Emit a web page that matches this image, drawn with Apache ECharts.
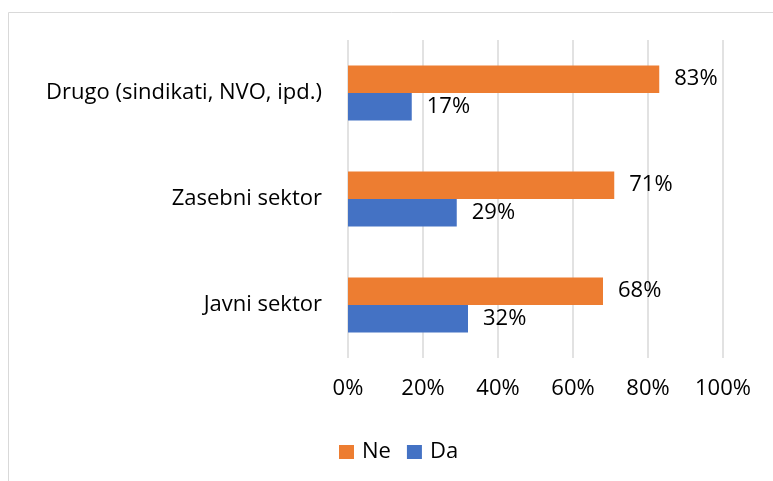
<!DOCTYPE html>
<html>
<head>
<meta charset="utf-8">
<script src="https://cdn.jsdelivr.net/npm/echarts@6/dist/echarts.min.js"></script>
<style>
  html, body { margin: 0; padding: 0; background: #fff; }
  #chart { width: 773px; height: 481px; }
</style>
</head>
<body>
<div id="chart"></div>
<script>
const categories = ['Javni sektor', 'Zasebni sektor', 'Drugo (sindikati, NVO, ipd.)']
const neValues = [68, 71, 83]
const daValues = [32, 29, 17]

const chart = echarts.init(document.getElementById('chart'))
const font = '"Open Sans", sans-serif'
const fs = 22

chart.setOption({
  animation: false,
  textStyle: { fontFamily: font },
  graphic: [{
    type: 'rect',
    left: 6,
    top: 10,
    shape: { width: 820, height: 520 },
    style: { fill: 'none', stroke: '#d9d9d9', lineWidth: 1 }
  }],
  legend: {
    data: ['Ne', 'Da'],
    top: 436,
    left: 334,
    itemWidth: 15,
    itemHeight: 14,
    itemGap: 16,
    icon: 'rect',
    textStyle: { fontSize: fs, color: '#000', fontFamily: font, padding: [0, 0, 0, 3] }
  },
  grid: { left: 348, right: 50, top: 40, bottom: 123 },
  xAxis: {
    type: 'value',
    min: 0,
    max: 100,
    interval: 20,
    axisLine: { show: false },
    axisTick: { show: false },
    splitLine: { lineStyle: { color: '#d9d9d9', width: 1.5 } },
    axisLabel: { formatter: '{value}%', fontSize: fs, color: '#000', margin: 20 }
  },
  yAxis: {
    type: 'category',
    data: categories,
    axisLine: { show: false },
    axisTick: { show: false },
    axisLabel: { fontSize: fs, color: '#000', margin: 26 }
  },
  series: [
    {
      name: 'Ne',
      type: 'bar',
      data: neValues,
      barGap: '0%',
      barCategoryGap: '48%',
      itemStyle: { color: '#ed7d31' },
      label: { show: true, position: 'right', distance: 15, formatter: '{c}%', fontSize: fs, color: '#000' }
    },
    {
      name: 'Da',
      type: 'bar',
      data: daValues,
      barGap: '0%',
      barCategoryGap: '48%',
      itemStyle: { color: '#4472c4' },
      label: { show: true, position: 'right', distance: 15, formatter: '{c}%', fontSize: fs, color: '#000' }
    }
  ]
})
</script>
</body>
</html>
